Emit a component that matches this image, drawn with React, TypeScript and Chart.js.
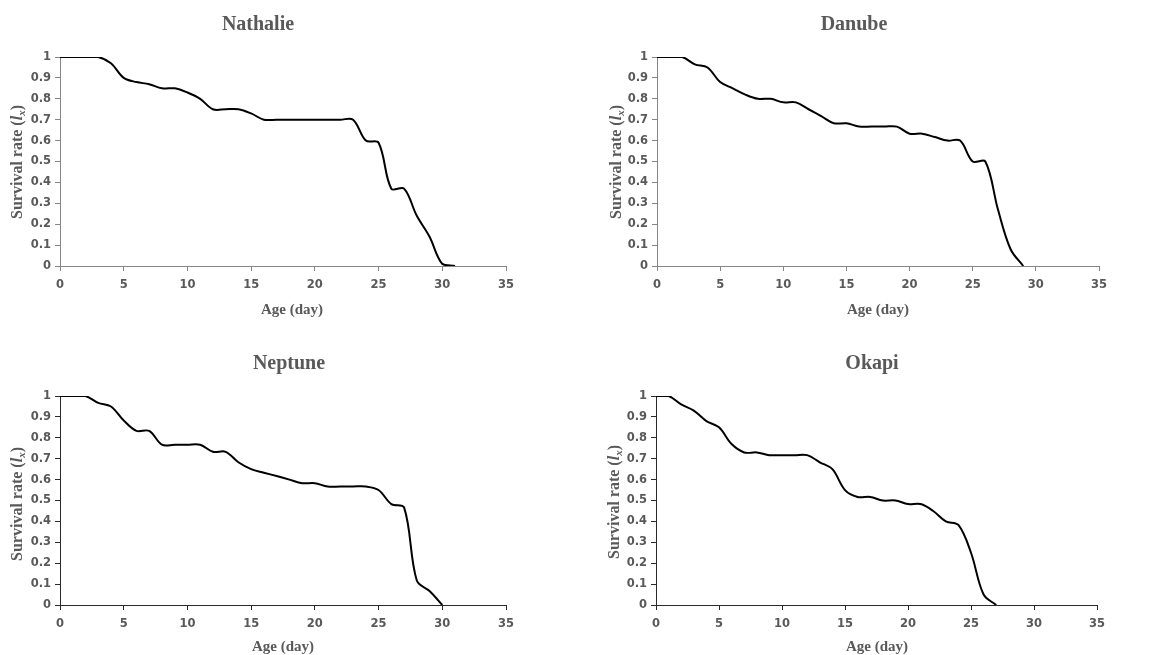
import React, { useEffect, useRef } from "react";
import { Chart, registerables } from "chart.js";

Chart.register(...registerables);

// ---- data ----
const ages = [0, 1, 2, 3, 4, 5, 6, 7, 8, 9, 10, 11, 12, 13, 14, 15, 16, 17, 18, 19, 20, 21, 22, 23, 24, 25, 26, 27, 28, 29, 30, 31];
const nathalie = [1, 1, 1, 1, 0.97, 0.9, 0.88, 0.87, 0.85, 0.85, 0.83, 0.8, 0.75, 0.75, 0.75, 0.73, 0.7, 0.7, 0.7, 0.7, 0.7, 0.7, 0.7, 0.7, 0.6, 0.59, 0.37, 0.37, 0.24, 0.14, 0.01, 0];
const danube = [1, 1, 1, 0.965, 0.95, 0.88, 0.85, 0.82, 0.8, 0.8, 0.783, 0.783, 0.75, 0.717, 0.683, 0.683, 0.667, 0.667, 0.667, 0.667, 0.633, 0.633, 0.617, 0.6, 0.6, 0.5, 0.5, 0.27, 0.08, 0];
const neptune = [1, 1, 1, 0.967, 0.95, 0.883, 0.833, 0.833, 0.767, 0.767, 0.767, 0.767, 0.733, 0.733, 0.683, 0.65, 0.633, 0.617, 0.6, 0.583, 0.583, 0.567, 0.567, 0.567, 0.567, 0.55, 0.483, 0.467, 0.117, 0.067, 0];
const okapi = [1, 1, 0.96, 0.93, 0.88, 0.85, 0.77, 0.73, 0.73, 0.717, 0.717, 0.717, 0.717, 0.683, 0.65, 0.55, 0.517, 0.517, 0.5, 0.5, 0.483, 0.483, 0.45, 0.4, 0.383, 0.25, 0.05, 0];
const xTicks = [0, 5, 10, 15, 20, 25, 30, 35];
const yTicks = [0, 0.1, 0.2, 0.3, 0.4, 0.5, 0.6, 0.7, 0.8, 0.9, 1];
const titles = ["Nathalie", "Danube", "Neptune", "Okapi"];
const xTitle = "Age (day)";

// ---- layout (panel-local pixels) ----
type Panel = {
  name: string;
  values: number[];
  left: number; top: number; w: number; h: number;
  plot: { l: number; r: number; t: number; b: number };
  titlePos: [number, number];
  xTitlePos: [number, number];
  yTitlePos: [number, number];
  axisColor: string;
};

const panels: Panel[] = [
  { name: titles[0], values: nathalie, left: 0, top: 0, w: 585, h: 325,
    plot: { l: 60, r: 506, t: 57, b: 266 }, titlePos: [258, 25], xTitlePos: [292, 310], yTitlePos: [18, 162], axisColor: "#868686" },
  { name: titles[1], values: danube, left: 585, top: 0, w: 586, h: 325,
    plot: { l: 72, r: 514, t: 57, b: 266 }, titlePos: [269, 25], xTitlePos: [293, 310], yTitlePos: [32, 162], axisColor: "#868686" },
  { name: titles[2], values: neptune, left: 0, top: 325, w: 585, h: 330,
    plot: { l: 60, r: 506, t: 71, b: 280 }, titlePos: [289, 39], xTitlePos: [283, 322], yTitlePos: [18, 179], axisColor: "#2a2a2a" },
  { name: titles[3], values: okapi, left: 585, top: 325, w: 586, h: 330,
    plot: { l: 71, r: 512, t: 71, b: 280 }, titlePos: [287, 39], xTitlePos: [292, 322], yTitlePos: [30, 177], axisColor: "#2a2a2a" },
];

const TEXT = "#595959";
const SERIF = "'Liberation Serif', 'Times New Roman', serif";
const SANS = "'DejaVu Sans', sans-serif";
const X_SCALE_H = 32;

function ChartPanel({ p }: { p: Panel }) {
  const ref = useRef<HTMLCanvasElement | null>(null);
  useEffect(() => {
    const canvas = ref.current;
    if (!canvas) return;
    const textPlugin = {
      id: "panelText",
      afterDraw(chart: any) {
        const ctx = chart.ctx as CanvasRenderingContext2D;
        ctx.save();
        ctx.fillStyle = TEXT;
        ctx.textAlign = "center";
        ctx.textBaseline = "middle";
        ctx.font = `bold 20px ${SERIF}`;
        ctx.fillText(p.name, p.titlePos[0], p.titlePos[1]);
        ctx.font = `bold 15px ${SERIF}`;
        ctx.fillText(xTitle, p.xTitlePos[0], p.xTitlePos[1]);
        // y title with italic l and subscript x
        const segs: { t: string; f: string; dy: number }[] = [
          { t: "Survival rate (", f: `bold 16px ${SERIF}`, dy: 0 },
          { t: "l", f: `italic bold 16px ${SERIF}`, dy: 0 },
          { t: "x", f: `italic bold 11px ${SERIF}`, dy: 4 },
          { t: ")", f: `bold 16px ${SERIF}`, dy: 0 },
        ];
        let total = 0;
        const widths = segs.map((s) => { ctx.font = s.f; const w = ctx.measureText(s.t).width; total += w; return w; });
        ctx.translate(p.yTitlePos[0], p.yTitlePos[1]);
        ctx.rotate(-Math.PI / 2);
        ctx.textAlign = "left";
        let x = -total / 2;
        segs.forEach((s, i) => {
          ctx.font = s.f;
          ctx.fillText(s.t, x, s.dy);
          x += widths[i];
        });
        ctx.restore();
      },
    };
    const chart = new Chart(canvas, {
      type: "line",
      data: {
        datasets: [
          {
            data: p.values.map((v, i) => ({ x: ages[i], y: v })),
            borderColor: "#000000",
            borderWidth: 2,
            pointRadius: 0,
            tension: 0.35,
            fill: false,
          },
        ],
      },
      options: {
        responsive: false,
        animation: false,
        devicePixelRatio: 1,
        layout: {
          padding: { left: 0, top: p.plot.t, right: p.w - p.plot.r, bottom: p.h - p.plot.b - X_SCALE_H },
        },
        plugins: { legend: { display: false }, title: { display: false }, tooltip: { enabled: false } },
        scales: {
          x: {
            type: "linear",
            min: xTicks[0],
            max: xTicks[xTicks.length - 1],
            afterFit: (s: any) => { s.height = X_SCALE_H; },
            afterBuildTicks: (s: any) => { s.ticks = xTicks.map((v) => ({ value: v })); },
            ticks: { color: TEXT, font: { family: SANS, weight: "bold", size: 11.5 }, padding: 7, maxRotation: 0, autoSkip: false },
            grid: { drawOnChartArea: false, drawTicks: true, tickLength: 5, color: p.axisColor },
            border: { color: p.axisColor, width: 1 },
          },
          y: {
            type: "linear",
            min: yTicks[0],
            max: yTicks[yTicks.length - 1],
            afterFit: (s: any) => { s.width = p.plot.l; },
            afterBuildTicks: (s: any) => { s.ticks = yTicks.map((v) => ({ value: v })); },
            ticks: {
              color: TEXT,
              font: { family: SANS, weight: "bold", size: 11.5 },
              padding: 4,
              autoSkip: false,
              callback: (v: any) => String(Number(Number(v).toFixed(1))),
            },
            grid: { drawOnChartArea: false, drawTicks: true, tickLength: 5, color: p.axisColor },
            border: { color: p.axisColor, width: 1 },
          },
        },
      },
      plugins: [textPlugin],
    } as any);
    return () => chart.destroy();
  }, [p]);
  return (
    <div style={{ position: "absolute", left: p.left, top: p.top, width: p.w, height: p.h }}>
      <canvas ref={ref} width={p.w} height={p.h} style={{ width: p.w, height: p.h, display: "block" }} />
    </div>
  );
}

export default function App() {
  return (
    <div style={{ position: "absolute", left: 0, top: 0, width: 1171, height: 655, background: "#ffffff", overflow: "hidden" }}>
      {panels.map((p) => (
        <ChartPanel key={p.name} p={p} />
      ))}
    </div>
  );
}
